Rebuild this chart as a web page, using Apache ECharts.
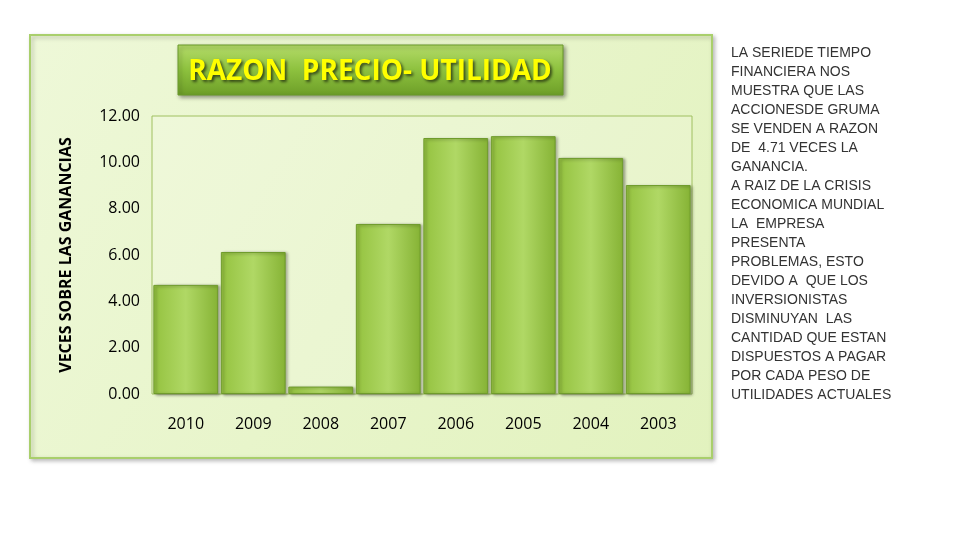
<!DOCTYPE html>
<html><head><meta charset="utf-8">
<script src="https://cdn.jsdelivr.net/npm/echarts@6/dist/echarts.min.js"></script>
<style>html,body{margin:0;background:#fff}#c{width:960px;height:540px}</style>
</head><body><div id="c"></div>
<script>
const years = ['2010','2009','2008','2007','2006','2005','2004','2003'];
const ratios = [4.71, 6.13, 0.32, 7.34, 11.05, 11.13, 10.19, 9.02];
const yTicks = [0, 2, 4, 6, 8, 10, 12];
const titleText = 'RAZON  PRECIO- UTILIDAD';
const yName = 'VECES SOBRE LAS GANANCIAS';
const noteLines = ['LA SERIEDE TIEMPO','FINANCIERA NOS','MUESTRA QUE LAS','ACCIONESDE GRUMA','SE VENDEN A RAZON','DE  4.71 VECES LA','GANANCIA.','A RAIZ DE LA CRISIS','ECONOMICA MUNDIAL','LA  EMPRESA','PRESENTA','PROBLEMAS, ESTO','DEVIDO A  QUE LOS','INVERSIONISTAS','DISMINUYAN  LAS','CANTIDAD QUE ESTAN','DISPUESTOS A PAGAR','POR CADA PESO DE','UTILIDADES ACTUALES'];

const chart = echarts.init(document.getElementById('c'));
chart.setOption({
  animation:false,
  graphic:[
    {type:'rect',z:-10,shape:{x:30,y:35,width:682,height:423},
     style:{fill:new echarts.graphic.LinearGradient(0,0,1,1,[{offset:0,color:'#eef8d8'},{offset:1,color:'#e2f2be'}]),stroke:'#a9cf6c',lineWidth:2,shadowBlur:4,shadowColor:'rgba(0,0,0,0.25)',shadowOffsetX:2,shadowOffsetY:2}},
    {type:'rect',z:10,shape:{x:178,y:45,width:385,height:50},
     style:{fill:new echarts.graphic.LinearGradient(0,0,0,1,[{offset:0,color:'#b5dc6a'},{offset:0.5,color:'#8dc13e'},{offset:1,color:'#6d9e28'}]),stroke:'#6b9a2a',lineWidth:1,shadowBlur:4,shadowColor:'rgba(0,0,0,0.4)',shadowOffsetX:2,shadowOffsetY:2}},
    {type:'text',z:11,x:370,y:72,style:{text:titleText,fill:'#ffff00',font:'bold 28px "Open Sans", sans-serif',align:'center',verticalAlign:'middle',textShadowBlur:3,textShadowColor:'rgba(0,0,0,0.6)',textShadowOffsetX:2,textShadowOffsetY:2}},
    {type:'text',x:731,y:44,style:{text:noteLines.join('\n'),fill:'#333',font:'14px "Liberation Sans", Arial, sans-serif',lineHeight:19}}
  ],
  grid:{left:152,right:268,top:116,bottom:146,show:true,borderColor:'#a0c060',borderWidth:1,backgroundColor:'rgba(255,255,255,0.15)'},
  xAxis:{type:'category',data:years,axisTick:{show:false},axisLine:{show:false},
    axisLabel:{color:'#000',fontSize:16,margin:22,fontFamily:'"Open Sans", sans-serif'}},
  yAxis:{type:'value',min:0,max:12,interval:2,name:yName,nameLocation:'middle',nameGap:78,
    nameTextStyle:{fontSize:16,fontWeight:'bold',color:'#000',fontFamily:'"Open Sans", sans-serif'},
    axisLine:{show:false},axisTick:{show:false},splitLine:{show:false},
    axisLabel:{color:'#000',fontSize:16,margin:12,formatter:v=>v.toFixed(2),fontFamily:'"Open Sans", sans-serif'}},
  series:[{type:'bar',data:ratios,barCategoryGap:'4%',
    itemStyle:{color:new echarts.graphic.LinearGradient(0,0,1,0,[{offset:0,color:'#94c23f'},{offset:0.5,color:'#b0d865'},{offset:1,color:'#86b335'}]),
      borderColor:'#6f9b2c',borderWidth:1,shadowBlur:3,shadowColor:'rgba(0,0,0,0.35)',shadowOffsetX:2,shadowOffsetY:1}}]
});
</script></body></html>
